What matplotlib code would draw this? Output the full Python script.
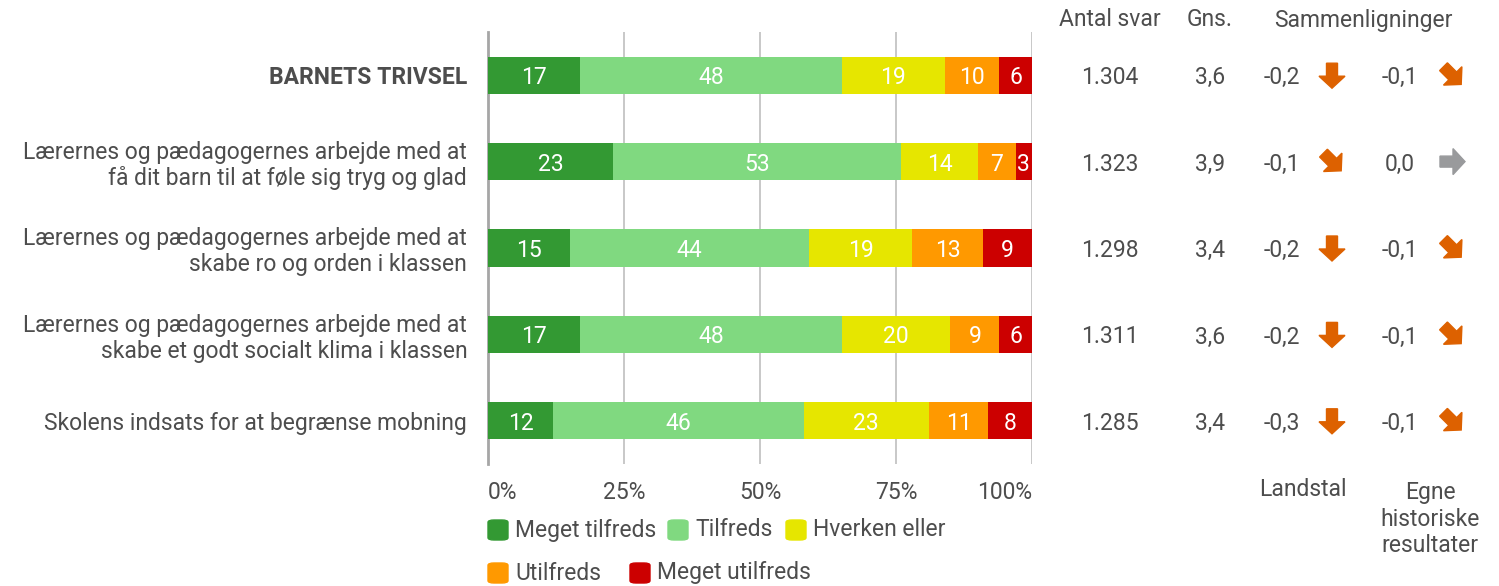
import numpy as np
import matplotlib
matplotlib.use("Agg")
import matplotlib.pyplot as plt
from matplotlib.patches import FancyBboxPatch, Polygon
from matplotlib.transforms import blended_transform_factory

plt.rcParams['font.family'] = ['Roboto', 'DejaVu Sans']

# data
questions = ["BARNETS TRIVSEL",
             "Lærernes og pædagogernes arbejde med at\nfå dit barn til at føle sig tryg og glad",
             "Lærernes og pædagogernes arbejde med at\nskabe ro og orden i klassen",
             "Lærernes og pædagogernes arbejde med at\nskabe et godt socialt klima i klassen",
             "Skolens indsats for at begrænse mobning"]
answers = ["Meget tilfreds", "Tilfreds", "Hverken eller", "Utilfreds", "Meget utilfreds"]
shares = [[17, 48, 19, 10, 6],
          [23, 53, 14, 7, 3],
          [15, 44, 19, 13, 9],
          [17, 48, 20, 9, 6],
          [12, 46, 23, 11, 8]]
n_answers = ["1.304", "1.323", "1.298", "1.311", "1.285"]
mean_score = ["3,6", "3,9", "3,4", "3,6", "3,4"]
diff_national = [-0.2, -0.1, -0.2, -0.2, -0.3]
trend_national = ["down", "diag", "down", "down", "down"]
diff_history = [-0.1, 0.0, -0.1, -0.1, -0.1]
trend_history = ["diag", "flat", "diag", "diag", "diag"]

colors = ["#339933", "#80D980", "#E6E600", "#FF9900", "#CC0000"]
txt = "#4D4D4D"
fs = 16.5
W, H = 1499, 586
dy = 0.03   # nudge numbers down a touch so they sit centred like the original

fig = plt.figure(figsize=(W / 100, H / 100), dpi=100)
ax = fig.add_axes([488 / W, 1 - 464 / H, 544 / W, 432 / H])

y = np.arange(len(questions))
data = np.array(shares)
left = np.zeros(len(questions))
for j, name in enumerate(answers):
    ax.barh(y, data[:, j], left=left, height=0.43, color=colors[j], zorder=3)
    for i in range(len(questions)):
        ax.text(left[i] + data[i, j] / 2, y[i] + dy, str(data[i, j]), ha='center', va='center',
                color='white', fontsize=fs, zorder=4)
    left += data[:, j]

ax.set_xlim(0, 100)
ax.set_ylim(len(questions) - 0.5, -0.5)
ax.set_xticks([0, 25, 50, 75, 100])
ax.set_xticklabels(["0%", "25%", "50%", "75%", "100%"], fontsize=fs, color=txt)
xl = ax.get_xticklabels()
xl[0].set_ha('left')
xl[-1].set_ha('right')
ax.tick_params(axis='x', length=0, pad=12)
ax.tick_params(axis='y', length=0)
ax.set_yticks(y)
ax.set_yticklabels(questions, fontsize=fs, color=txt, linespacing=1.15)
ax.get_yticklabels()[0].set_fontweight('bold')
ax.tick_params(axis='y', pad=15)
ax.grid(axis='x', color='#BFBFBF', linewidth=1.2, zorder=0)
for s in ['top', 'right', 'bottom']:
    ax.spines[s].set_visible(False)
ax.spines['left'].set_color('#A6A6A6')
ax.spines['left'].set_linewidth(2)

# columns to the right
tr = blended_transform_factory(fig.transFigure, ax.transData)
def fx(px):
    return px / W

fig.text(fx(1110), 1 - 20 / H, "Antal svar", ha='center', va='center', fontsize=fs, color=txt)
fig.text(fx(1210), 1 - 20 / H, "Gns.", ha='center', va='center', fontsize=fs, color=txt)
fig.text(fx(1363), 1 - 20 / H, "Sammenligninger", ha='center', va='center', fontsize=fs, color=txt)
fig.text(fx(1303), 1 - 490 / H, "Landstal", ha='center', va='center', fontsize=fs, color=txt)
fig.text(fx(1430), 1 - 519 / H, "Egne\nhistoriske\nresultater", ha='center', va='center',
         fontsize=fs, color=txt, linespacing=1.2)

arrow_shape = np.array([[-12, -5.5], [1, -5.5], [1, -13], [13, 0], [1, 13], [1, 5.5], [-12, 5.5]])
angles = {"down": -90, "diag": -45, "flat": 0}

def draw_arrow(xp, row, kind):
    a = np.deg2rad(angles[kind])
    rot = np.array([[np.cos(a), -np.sin(a)], [np.sin(a), np.cos(a)]])
    pts = arrow_shape @ rot.T
    cy = ax.transData.transform((0, row))[1]
    disp = np.column_stack([xp + pts[:, 0], cy + pts[:, 1]])
    col = "#999A9C" if kind == "flat" else "#DD6100"
    fig.patches.append(Polygon(disp, closed=True, transform=None, color=col))

def fmt(v):
    return f"{v:.1f}".replace(".", ",").replace("-0,0", "0,0")

for i in range(len(questions)):
    yy = y[i] + dy
    ax.text(fx(1110), yy, n_answers[i], transform=tr, ha='center', va='center', fontsize=fs, color=txt)
    ax.text(fx(1210), yy, mean_score[i], transform=tr, ha='center', va='center', fontsize=fs, color=txt)
    ax.text(fx(1282), yy, fmt(diff_national[i]), transform=tr, ha='center', va='center', fontsize=fs, color=txt)
    ax.text(fx(1400), yy, fmt(diff_history[i]), transform=tr, ha='center', va='center', fontsize=fs, color=txt)
    draw_arrow(1332, y[i], trend_national[i])
    draw_arrow(1452, y[i], trend_history[i])

# legend
leg_pos = [(488, 530), (668, 530), (786, 530), (488, 573), (630, 573)]
for (lx, ly), name, c in zip(leg_pos, answers, colors):
    fig.patches.append(FancyBboxPatch((lx / W, 1 - (ly + 10) / H), 20 / W, 20 / H,
                                      boxstyle="round,pad=0,rounding_size=0.004",
                                      transform=fig.transFigure, color=c))
    fig.text((lx + 27) / W, 1 - ly / H, name, ha='left', va='center', fontsize=fs, color=txt)

fig.savefig("out.png", dpi=100)
